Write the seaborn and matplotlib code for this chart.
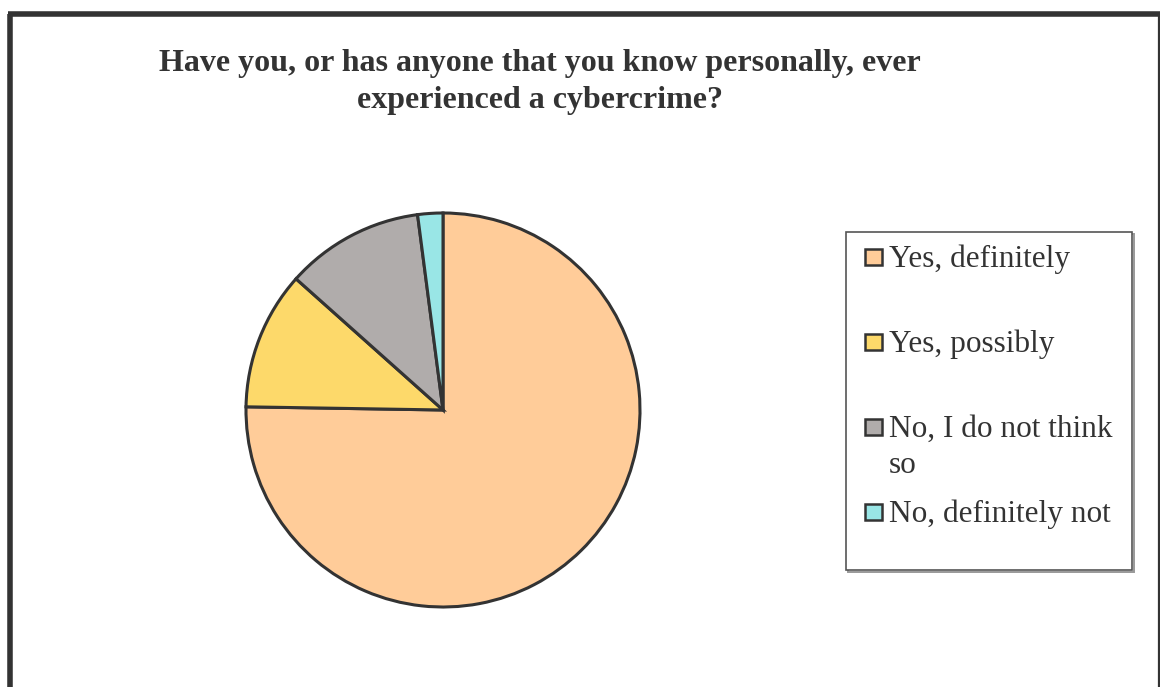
import matplotlib
matplotlib.use("Agg")
import matplotlib.pyplot as plt
from matplotlib.lines import Line2D
from matplotlib.patches import Rectangle
import seaborn as sns

# Survey responses
categories = ["Yes, definitely", "Yes, possibly", "No, I do not think so", "No, definitely not"]
counts = [73, 11, 11, 2]
legend_labels = ["Yes, definitely", "Yes, possibly", "No, I do not think\nso", "No, definitely not"]
colors = ["#FFCC99", "#FDD96A", "#B0ACAB", "#99E6E6"]
title = "Have you, or has anyone that you know personally, ever\nexperienced a cybercrime?"

sns.set_theme(style="white")
plt.rcParams["font.family"] = ["Liberation Serif", "DejaVu Serif"]

W, H = 1160, 687
fig = plt.figure(figsize=(W / 100, H / 100), dpi=100)
fig.patch.set_facecolor("white")


def fx(px):
    return px / W


def fy(py):
    return 1 - py / H


# pie axes placed by its pixel centre and radius
cx, cy, r = 443, 410, 197
ax = fig.add_axes([fx(cx - r), fy(cy + r), 2 * r / W, 2 * r / H])
wedges, _ = ax.pie(
    counts,
    colors=colors,
    startangle=90,
    counterclock=False,
    wedgeprops=dict(edgecolor="#333333", linewidth=2.2),
)
ax.set_aspect("equal")
ax.set_xlim(-1.0, 1.0)
ax.set_ylim(-1.0, 1.0)
ax.axis("off")

fig.text(fx(540), fy(82), title, ha="center", va="center",
         fontsize=23, fontweight="bold", color="#333333", linespacing=1.4)

# legend box with its soft shadow on the lower right
lx0, ly0, lx1, ly1 = 846, 232, 1132, 570
fig.add_artist(Rectangle((fx(lx0 + 1.5), fy(ly1 + 1.5)), (lx1 - lx0) / W, (ly1 - ly0) / H,
                         transform=fig.transFigure, facecolor="none",
                         edgecolor="#999999", linewidth=1.4))
fig.add_artist(Rectangle((fx(lx0), fy(ly1)), (lx1 - lx0) / W, (ly1 - ly0) / H,
                         transform=fig.transFigure, facecolor="white",
                         edgecolor="#555555", linewidth=1.2))

row_y = [257, 342, 427, 512]
for label, color, y in zip(legend_labels, colors, row_y):
    s = 16.5
    fig.add_artist(Rectangle((fx(865), fy(y + s / 2)), s / W, s / H,
                             transform=fig.transFigure, facecolor=color,
                             edgecolor="#333333", linewidth=1.8))
    lines = label.split("\n")
    for i, line in enumerate(lines):
        fig.text(fx(889), fy(y + 10 + 36 * i), line, ha="left", va="baseline",
                 fontsize=22.5, color="#333333")

# outer chart border (left, top, right)
fig.add_artist(Line2D([fx(9.7), fx(9.7)], [0, fy(13.8)], transform=fig.transFigure,
                      color="#333333", linewidth=4.0, solid_capstyle="butt"))
fig.add_artist(Line2D([fx(7.7), 1], [fy(13.8), fy(13.8)], transform=fig.transFigure,
                      color="#333333", linewidth=4.0, solid_capstyle="butt"))
fig.add_artist(Line2D([fx(1158.8), fx(1158.8)], [0, fy(13.8)], transform=fig.transFigure,
                      color="#333333", linewidth=1.6, solid_capstyle="butt"))

fig.savefig("out.png", dpi=100, facecolor="white")
